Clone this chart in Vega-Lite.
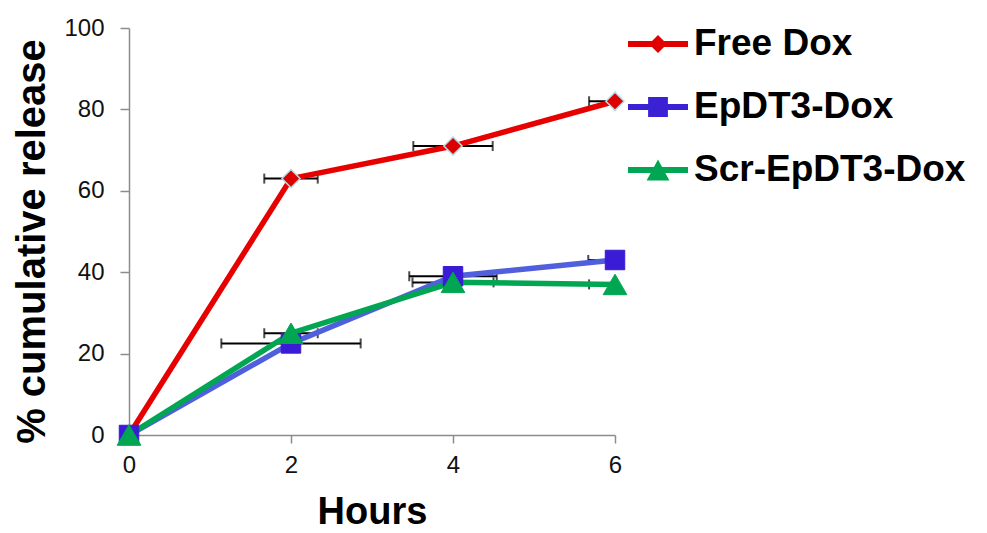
{
  "$schema": "https://vega.github.io/schema/vega-lite/v6.json",
  "width": 486,
  "height": 407,
  "autosize": "none",
  "padding": {"left": 129, "top": 28, "right": 372, "bottom": 98},
  "background": "white",
  "config": {
    "view": {"stroke": null},
    "font": "Liberation Sans",
    "axis": {
      "grid": false,
      "labelFlush": false,
      "domainColor": "#8c8c8c",
      "domainWidth": 1.5,
      "tickColor": "#8c8c8c",
      "tickWidth": 1.5,
      "labelFont": "Liberation Sans",
      "labelFontSize": 24,
      "labelColor": "#111111",
      "titleFont": "Liberation Sans",
      "titleFontSize": 39,
      "titleFontWeight": "bold",
      "titleColor": "#000000"
    }
  },
  "data": {
    "values": [
      {"series": "Free Dox", "hours": 0, "value": 0, "xlo": null, "xhi": null},
      {"series": "Free Dox", "hours": 2, "value": 63, "xlo": 1.67, "xhi": 2.33},
      {"series": "Free Dox", "hours": 4, "value": 71, "xlo": 3.51, "xhi": 4.49},
      {"series": "Free Dox", "hours": 6, "value": 82, "xlo": 5.68, "xhi": 6.32},
      {"series": "EpDT3-Dox", "hours": 0, "value": 0, "xlo": null, "xhi": null},
      {"series": "EpDT3-Dox", "hours": 2, "value": 22.5, "xlo": 1.14, "xhi": 2.86},
      {"series": "EpDT3-Dox", "hours": 4, "value": 39, "xlo": 3.46, "xhi": 4.54},
      {"series": "EpDT3-Dox", "hours": 6, "value": 43, "xlo": 5.67, "xhi": 6.33},
      {"series": "Scr-EpDT3-Dox", "hours": 0, "value": 0, "xlo": null, "xhi": null},
      {"series": "Scr-EpDT3-Dox", "hours": 2, "value": 25, "xlo": 1.67, "xhi": 2.33},
      {"series": "Scr-EpDT3-Dox", "hours": 4, "value": 37.5, "xlo": 3.5, "xhi": 4.5},
      {"series": "Scr-EpDT3-Dox", "hours": 6, "value": 37, "xlo": 5.68, "xhi": 6.32}
    ]
  },
  "encoding": {
    "y": {
      "field": "value",
      "type": "quantitative",
      "scale": {"domain": [0, 100], "nice": false},
      "axis": {
        "title": "% cumulative release",
        "titleFontSize": 40,
        "values": [0, 20, 40, 60, 80, 100],
        "tickSize": 9,
        "labelPadding": 16,
        "titleBaseline": "alphabetic",
        "titleAngle": 270,
        "titleX": -85,
        "titleY": 213
      }
    }
  },
  "layer": [
    {
      "transform": [{"filter": "datum.xlo != null"}],
      "mark": {"type": "rule", "color": "#000000", "strokeWidth": 2, "clip": true},
      "encoding": {
        "x": {"field": "xlo", "type": "quantitative", "scale": {"domain": [0, 6], "nice": false}},
        "x2": {"field": "xhi"}
      }
    },
    {
      "transform": [{"filter": "datum.xlo != null"}],
      "mark": {"type": "tick", "orient": "vertical", "color": "#000000", "thickness": 2, "size": 10, "clip": true},
      "encoding": {
        "x": {"field": "xlo", "type": "quantitative"}
      }
    },
    {
      "transform": [{"filter": "datum.xlo != null"}],
      "mark": {"type": "tick", "orient": "vertical", "color": "#000000", "thickness": 2, "size": 10, "clip": true},
      "encoding": {
        "x": {"field": "xhi", "type": "quantitative"}
      }
    },
    {
      "mark": {"type": "line", "strokeWidth": 5.5},
      "encoding": {
        "x": {
          "field": "hours",
          "type": "quantitative",
          "axis": {
            "title": "Hours",
            "titleFontSize": 38,
            "values": [0, 2, 4, 6],
            "format": "d",
            "tickSize": 8,
            "labelPadding": 10,
            "titlePadding": 16
          }
        },
        "color": {
          "field": "series",
          "type": "nominal",
          "sort": null,
          "scale": {
            "domain": ["Free Dox", "EpDT3-Dox", "Scr-EpDT3-Dox"],
            "range": ["#e60000", "#5060dd", "#00a651"]
          },
          "legend": {
            "title": null,
            "orient": "none",
            "legendX": 499,
            "legendY": -14,
            "labelFont": "Liberation Sans",
            "labelFontSize": 37,
            "labelFontWeight": "bold",
            "labelColor": "#000000",
            "labelOffset": 6,
            "symbolSize": 3600,
            "rowPadding": 15,
            "padding": 0,
            "labelLimit": 400,
            "encode": {
              "symbols": {
                "update": {
                  "shape": {"signal": "datum.value === 'Free Dox' ? 'M-1,-0.1H1V0.1H-1Z M0,-0.3L0.3,0L0,0.3L-0.3,0Z' : (datum.value === 'EpDT3-Dox' ? 'M-1,-0.1H1V0.1H-1Z M-0.33,-0.33H0.33V0.33H-0.33Z' : 'M-1,-0.1H1V0.1H-1Z M0,-0.35L0.38,0.35H-0.38Z')"},
                  "fill": {"signal": "datum.value === 'Free Dox' ? '#e00000' : (datum.value === 'EpDT3-Dox' ? '#3a22d4' : '#00a651')"},
                  "fillOpacity": {"value": 1},
                  "strokeWidth": {"value": 0},
                  "size": {"value": 3600}
                }
              }
            }
          }
        }
      }
    },
    {
      "transform": [{"filter": "datum.series === 'Free Dox'"}],
      "mark": {"type": "point", "shape": "diamond", "filled": true, "opacity": 1, "size": 330, "fill": "#dd0000", "stroke": "#b3dde4", "strokeWidth": 1.5},
      "encoding": {
        "x": {"field": "hours", "type": "quantitative"}
      }
    },
    {
      "transform": [{"filter": "datum.series === 'EpDT3-Dox'"}],
      "mark": {"type": "point", "shape": "square", "filled": true, "opacity": 1, "size": 380, "fill": "#3a1cd6", "stroke": "#3a1cd6", "strokeWidth": 1},
      "encoding": {
        "x": {"field": "hours", "type": "quantitative"}
      }
    },
    {
      "transform": [{"filter": "datum.series === 'Scr-EpDT3-Dox'"}],
      "mark": {"type": "point", "shape": "triangle-up", "filled": true, "opacity": 1, "size": 560, "fill": "#00a651", "stroke": "#00a651", "strokeWidth": 1},
      "encoding": {
        "x": {"field": "hours", "type": "quantitative"}
      }
    }
  ]
}
